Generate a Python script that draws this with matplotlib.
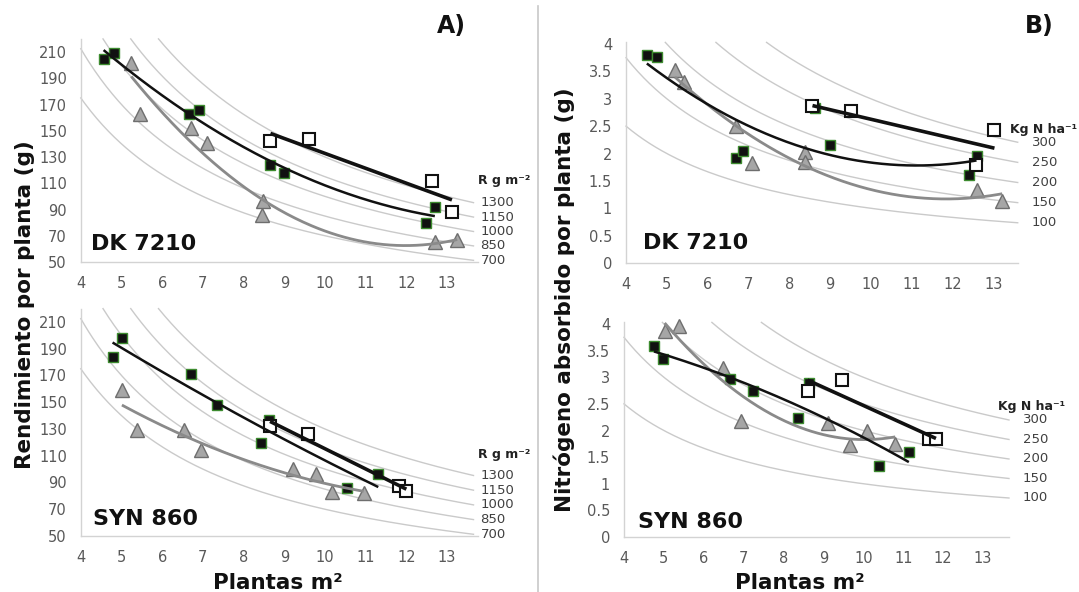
import numpy as np
import matplotlib
matplotlib.use("Agg")
import matplotlib.pyplot as plt

# ---- data ----
# A) Rendimiento por planta (g) vs plantas m-2
dk_yield_fill_x = [4.56, 4.81, 6.67, 6.91, 8.64, 9.00, 12.49, 12.70]
dk_yield_fill_y = [205, 209, 163, 166, 124, 118, 80, 92]
dk_yield_open_x = [8.66, 9.61, 12.62, 13.12]
dk_yield_open_y = [142, 143.5, 112, 88]
dk_yield_tri_x = [5.24, 5.45, 6.70, 7.10, 8.47, 8.45, 12.70, 13.25]
dk_yield_tri_y = [202, 163, 152, 141, 96.5, 86, 65.5, 67]

syn_yield_fill_x = [4.78, 5.01, 6.70, 7.34, 8.63, 8.44, 11.31, 10.55]
syn_yield_fill_y = [184, 198, 171, 148, 137, 119.5, 96, 86]
syn_yield_open_x = [8.65, 9.58, 11.82, 12.00]
syn_yield_open_y = [132.5, 126, 87.5, 84]
syn_yield_tri_x = [5.01, 5.38, 6.54, 6.96, 9.22, 9.79, 10.17, 10.95]
syn_yield_tri_y = [159, 129, 129, 114, 100, 96, 83, 82]

# B) Nitrogeno absorbido por planta (g) vs plantas m-2
dk_n_fill_x = [4.51, 4.76, 6.70, 6.86, 8.62, 8.99, 12.41, 12.59]
dk_n_fill_y = [3.80, 3.77, 1.91, 2.05, 2.84, 2.15, 1.60, 1.95]
dk_n_open_x = [8.57, 9.52, 12.58, 13.03]
dk_n_open_y = [2.86, 2.78, 1.79, 2.43]
dk_n_tri_x = [5.20, 5.42, 6.70, 7.08, 8.38, 8.38, 12.61, 13.22]
dk_n_tri_y = [3.52, 3.30, 2.50, 1.82, 2.03, 1.85, 1.33, 1.13]

syn_n_fill_x = [4.75, 4.98, 6.65, 7.24, 8.35, 8.65, 10.40, 11.14]
syn_n_fill_y = [3.59, 3.34, 2.96, 2.74, 2.24, 2.90, 1.34, 1.59]
syn_n_open_x = [8.60, 9.47, 11.64, 11.82]
syn_n_open_y = [2.74, 2.94, 1.84, 1.84]
syn_n_tri_x = [5.02, 5.37, 6.47, 6.93, 9.12, 9.67, 10.08, 10.80]
syn_n_tri_y = [3.87, 3.97, 3.18, 2.17, 2.14, 1.73, 2.00, 1.74]

# iso lines
yield_levels = [1300, 1150, 1000, 850, 700]      # R g m-2
n_levels = [300, 250, 200, 150, 100]             # kg N ha-1

x_ticks = [4, 5, 6, 7, 8, 9, 10, 11, 12, 13]
yield_ticks = [50, 70, 90, 110, 130, 150, 170, 190, 210]
n_ticks = [0, 0.5, 1, 1.5, 2, 2.5, 3, 3.5, 4]
n_tick_labels = ["0", "0.5", "1", "1.5", "2", "2.5", "3", "3.5", "4"]

ISO_C = "#cacaca"
TICK_C = "#595959"
GREEN = "#3d8b2f"

fig = plt.figure(figsize=(10.79, 5.92), dpi=100)


def panel(rect, xlim, ylim, yticks, ylabels, tri, fill, opn, iso_k, iso_lab,
          iso_x_end, lab_x, title, title_xy, unit, unit_xy):
    ax = fig.add_axes(rect)
    ax.set_xlim(*xlim)
    ax.set_ylim(*ylim)
    for s in ["top", "right"]:
        ax.spines[s].set_visible(False)
    for s in ["left", "bottom"]:
        ax.spines[s].set_color("#d3d3d3")
        ax.spines[s].set_linewidth(1.0)
    ax.set_xticks(x_ticks)
    ax.set_yticks(yticks)
    ax.set_yticklabels(ylabels)
    ax.tick_params(length=0, labelsize=10.5, colors=TICK_C)
    ax.tick_params(axis="x", pad=10)
    ax.tick_params(axis="y", pad=10)

    # iso curves y = k / x
    for k, lab in zip(iso_k, iso_lab):
        x0 = max(xlim[0], k / ylim[1])
        xs = np.linspace(x0, iso_x_end, 200)
        ax.plot(xs, k / xs, color=ISO_C, lw=1.0, zorder=1, clip_on=False)
        ax.text(lab_x, k / iso_x_end, str(lab), fontsize=9.5, color="#404040",
                ha="left", va="center")

    # markers
    ax.plot(tri[0], tri[1], ls="none", marker="^", ms=10, mfc="#a6a6a6",
            mec="#6e6e6e", mew=1.0, zorder=3, clip_on=False)
    ax.plot(fill[0], fill[1], ls="none", marker="s", ms=7.5, mfc="#111111",
            mec=GREEN, mew=1.0, zorder=4, clip_on=False)
    ax.plot(opn[0], opn[1], ls="none", marker="s", ms=9, mfc="white",
            mec="#111111", mew=1.5, zorder=5, clip_on=False)

    # trend lines: polynomial fits of each series
    for (xd, yd), deg, col, lw in [(tri, 2, "#8a8a8a", 2.0),
                                   (fill, 2, "#111111", 1.8),
                                   (opn, 1, "#111111", 2.6)]:
        c = np.polyfit(xd, yd, deg)
        xs = np.linspace(min(xd), max(xd), 200)
        ax.plot(xs, np.polyval(c, xs), color=col, lw=lw, zorder=6,
                solid_capstyle="butt")

    ax.text(title_xy[0], title_xy[1], title, fontsize=16, fontweight="bold",
            color="#111111", ha="left", va="center")
    ax.text(unit_xy[0], unit_xy[1], unit, fontsize=9, fontweight="bold",
            color="#222222", ha="left", va="center")
    return ax


yield_k = yield_levels
n_k = [v * 0.1 for v in n_levels]   # kg ha-1 -> g m-2

panel([0.0749, 0.5574, 0.3677, 0.3769], (4, 13.75), (50, 220), yield_ticks,
      [str(t) for t in yield_ticks],
      (dk_yield_tri_x, dk_yield_tri_y), (dk_yield_fill_x, dk_yield_fill_y),
      (dk_yield_open_x, dk_yield_open_y), yield_k, yield_levels, 13.65, 13.82,
      "DK 7210", (4.25, 64), "R g m\u207b\u00b2", (13.77, 112.4))

panel([0.0749, 0.0946, 0.3677, 0.3841], (4, 13.75), (50, 220), yield_ticks,
      [str(t) for t in yield_ticks],
      (syn_yield_tri_x, syn_yield_tri_y), (syn_yield_fill_x, syn_yield_fill_y),
      (syn_yield_open_x, syn_yield_open_y), yield_k, yield_levels, 13.65, 13.82,
      "SYN 860", (4.3, 63), "R g m\u207b\u00b2", (13.77, 111))

panel([0.5802, 0.5557, 0.3630, 0.3727], (4, 13.6), (0, 4.03), n_ticks,
      n_tick_labels,
      (dk_n_tri_x, dk_n_tri_y), (dk_n_fill_x, dk_n_fill_y),
      (dk_n_open_x, dk_n_open_y), n_k, n_levels, 13.6, 13.95,
      "DK 7210", (4.42, 0.37), "Kg N ha\u207b\u00b9", (13.4, 2.44))

panel([0.5783, 0.0929, 0.3568, 0.3625], (4, 13.65), (0, 4.03), n_ticks,
      n_tick_labels,
      (syn_n_tri_x, syn_n_tri_y), (syn_n_fill_x, syn_n_fill_y),
      (syn_n_open_x, syn_n_open_y), n_k, n_levels, 13.65, 14.0,
      "SYN 860", (4.35, 0.28), "Kg N ha\u207b\u00b9", (13.38, 2.46))

# labels
fig.text(0.0235, 0.486, "Rendimiento por planta (g)", rotation=90, fontsize=15.5,
         fontweight="bold", color="#111111", ha="center", va="center")
fig.text(0.5227, 0.493, "Nitrógeno absorbido por planta (g)", rotation=90,
         fontsize=15.5, fontweight="bold", color="#111111", ha="center", va="center")
fig.text(278 / 1079, 1 - 583 / 592, "Plantas m\u00b2", fontsize=15.5,
         fontweight="bold", color="#111111", ha="center", va="center")
fig.text(800 / 1079, 1 - 583 / 592, "Plantas m\u00b2", fontsize=15.5,
         fontweight="bold", color="#111111", ha="center", va="center")
fig.text(437 / 1079, 1 - 26 / 592, "A)", fontsize=17, fontweight="bold",
         color="#111111", ha="left", va="center")
fig.text(1025 / 1079, 1 - 26 / 592, "B)", fontsize=17, fontweight="bold",
         color="#111111", ha="left", va="center")

# separator between A and B
fig.add_artist(plt.Line2D([538 / 1079, 538 / 1079], [0, 1 - 6 / 592],
                          transform=fig.transFigure, color="#c8c8c8", lw=1.2))

fig.savefig("out.png", dpi=100)
